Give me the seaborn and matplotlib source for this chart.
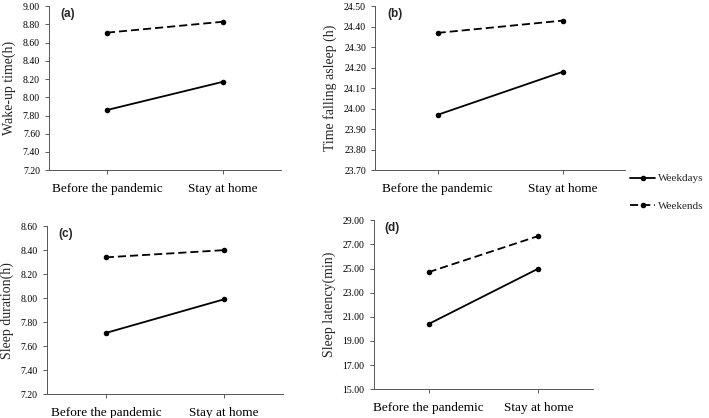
import pandas as pd
import matplotlib.pyplot as plt
import seaborn as sns
from matplotlib.lines import Line2D

# =====================================
# Data
# =====================================

periods = ["Before the pandemic", "Stay at home"]

wake_weekdays = [7.86, 8.17]
wake_weekends = [8.71, 8.83]

asleep_weekdays = [23.97, 24.18]
asleep_weekends = [24.37, 24.43]

duration_weekdays = [7.71, 7.99]
duration_weekends = [8.34, 8.40]

latency_weekdays = [20.40, 25.00]
latency_weekends = [24.70, 27.70]

panels = [
    ("(a)", "Wake-up time(h)", wake_weekdays, wake_weekends, (7.2, 9.0), 0.2),
    ("(b)", "Time falling asleep (h)", asleep_weekdays, asleep_weekends, (23.7, 24.5), 0.1),
    ("(c)", "Sleep duration(h)", duration_weekdays, duration_weekends, (7.2, 8.6), 0.2),
    ("(d)", "Sleep latency(min)", latency_weekdays, latency_weekends, (15.0, 29.0), 2.0),
]

# axes boxes in figure fraction [left, bottom, width, height]
boxes = [
    [0.069, 0.593, 0.327, 0.392],
    [0.529, 0.593, 0.353, 0.392],
    [0.066, 0.057, 0.333, 0.402],
    [0.527, 0.069, 0.310, 0.404],
]

# =====================================
# Plot
# =====================================

sns.set_style("ticks")
plt.rcParams["font.family"] = ["Liberation Serif", "DejaVu Serif"]

fig = plt.figure(figsize=(7.09, 4.18), dpi=100)

for (tag, ylabel, wd, we, ylim, step), box in zip(panels, boxes):
    ax = fig.add_axes(box)

    df = pd.DataFrame({
        "period": periods * 2,
        "value": wd + we,
        "group": ["Weekdays"] * 2 + ["Weekends"] * 2,
    })

    sns.lineplot(
        data=df, x="period", y="value", style="group",
        dashes={"Weekdays": "", "Weekends": (4.5, 2.2)},
        markers={"Weekdays": "o", "Weekends": "o"},
        color="black", linewidth=1.3, markersize=4,
        markeredgewidth=0, legend=False, ax=ax
    )

    ax.set_xlim(-0.5, 1.5)
    ax.set_ylim(*ylim)
    n = int(round((ylim[1] - ylim[0]) / step))
    ticks = [ylim[0] + i * step for i in range(n + 1)]
    ax.set_yticks(ticks)
    ax.set_yticklabels([f"{t:.2f}" for t in ticks], fontsize=7)
    ax.set_xticks([0, 1])
    ax.set_xticklabels(periods, fontsize=9.5)
    ax.tick_params(axis="x", pad=6, length=3, width=0.6, colors="#444444", labelcolor="black")
    ax.tick_params(axis="y", length=3, width=0.6, colors="#444444", labelcolor="black")

    ax.set_xlabel("")
    ax.set_ylabel(ylabel, fontsize=10, labelpad=5)
    for s in ["left", "bottom"]:
        ax.spines[s].set_linewidth(0.7)
        ax.spines[s].set_color("#555555")
    sns.despine(ax=ax)

    ax.text(0.05, 0.99, tag, transform=ax.transAxes, fontsize=8.5,
            fontweight="bold", family="Liberation Sans", va="top", ha="left")

# legend on the right
handles = [
    Line2D([], [], color="black", lw=1.3, marker="o", markersize=4, markeredgewidth=0),
    Line2D([], [], color="black", lw=1.3, marker="o", markersize=4, markeredgewidth=0,
           dashes=(4.5, 2.2)),
]
fig.legend(handles, ["Weekdays", "Weekends"], loc="center left",
           bbox_to_anchor=(0.875, 0.54), frameon=False, fontsize=8,
           handlelength=2.2, handletextpad=0.3, labelspacing=1.6)

plt.savefig("out.png", dpi=100)
plt.close()
